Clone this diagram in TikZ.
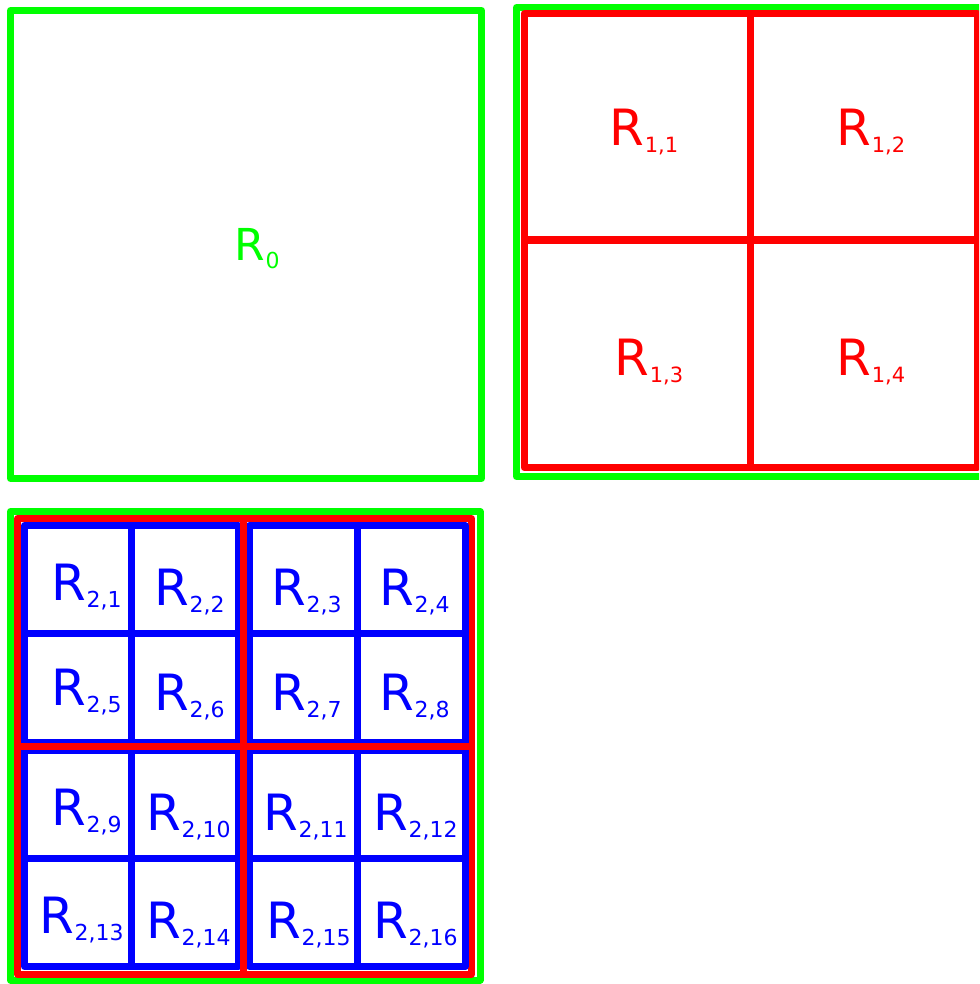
\documentclass[tikz,border=0pt]{standalone}
\usepackage{fontspec}
\setmainfont{DejaVu Sans}
\definecolor{gg}{HTML}{00FF00}
\definecolor{rr}{HTML}{FF0000}
\definecolor{bb}{HTML}{0000FF}
\newcommand{\mylab}[5]{\fontsize{#3}{#3}\selectfont #1\kern1pt\raisebox{-#5pt}{\fontsize{#4}{#4}\selectfont #2}}
\begin{document}
\begin{tikzpicture}[x=1pt,y=-1pt,
  gline/.style={draw=gg,line width=7pt,line join=round},
  rline/.style={draw=rr,line width=7pt,line join=round},
  bline/.style={draw=bb,line width=7pt,line join=round},
  lab/.style={anchor=base west,inner sep=0pt,outer sep=0pt}]
\useasboundingbox (0,0) rectangle (979,984);
\clip (0,0) rectangle (979,984);
% top-left
\draw[gline] (10.5,10.5) rectangle (481.5,478.5);
\node[lab,text=gg] (l0) at (234,260) {\mylab{R}{0}{44}{22}{8}};
% top-right
\draw[gline] (516.5,7.5) rectangle (987.5,476.5);
\draw[rline] (524,14) rectangle (977.5,467.5);
\draw[rline] (750,14) -- (750,467.5);
\draw[rline] (524,240) -- (977.5,240);
\node[lab,text=rr] (l11) at (609,146) {\mylab{R}{1,1}{50}{21}{7}};
\node[lab,text=rr] (l12) at (836,146) {\mylab{R}{1,2}{50}{21}{7}};
\node[lab,text=rr] (l13) at (614,375) {\mylab{R}{1,3}{50}{21}{7}};
\node[lab,text=rr] (l14) at (836,375) {\mylab{R}{1,4}{50}{21}{7}};
% bottom-left
\draw[gline] (10.5,511.5) rectangle (480,980);
\draw[rline] (17.5,518.5) rectangle (471.5,974.5);
\foreach \xa/\xb in {24.5/238,249.5/465}{
  \foreach \ya/\yb in {525.5/742,750/966.5}{
    \draw[bline] (\xa,\ya) rectangle (\xb,\yb);
    \draw[bline] ({(\xa+\xb)/2},\ya) -- ({(\xa+\xb)/2},\yb);
    \draw[bline] (\xa,{(\ya+\yb)/2}) -- (\xb,{(\ya+\yb)/2});
  }
}
\draw[rline] (243,518.5) -- (243,974.5);
\draw[rline] (17.5,746) -- (471.5,746);
\foreach \n/\x/\y in {1/51/600,2/154/605,3/271/605,4/379/605,
                      5/51/705,6/154/710,7/271/710,8/379/710,
                      9/51/825,10/146/830,11/263/830,12/373/830,
                      13/39/933,14/146/938,15/266/938,16/373/938}{
  \node[lab,text=bb] (l2\n) at (\x,\y) {\mylab{R}{2,\n}{50}{22}{7}};
}
\end{tikzpicture}
\end{document}
